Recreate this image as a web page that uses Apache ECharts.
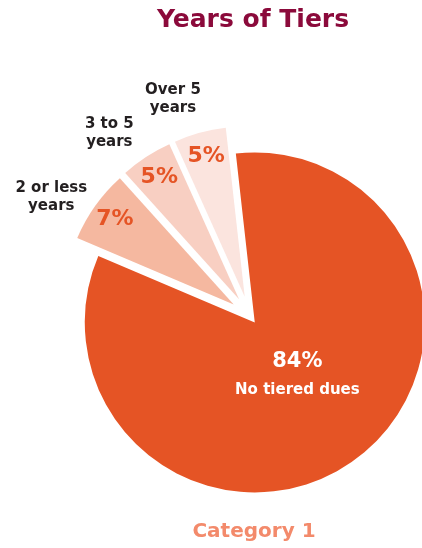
<!DOCTYPE html>
<html>
<head>
<meta charset="utf-8">
<style>
  html, body { margin: 0; padding: 0; background: #ffffff; }
  #chart { width: 422px; height: 548px; }
</style>
<script src="https://cdn.jsdelivr.net/npm/echarts@6/dist/echarts.min.js"></script>
</head>
<body>
<div id="chart"></div>
<script>
// Share of members by how long tiered dues have been in place
const categories = ['No tiered dues', '2 or less years', '3 to 5 years', 'Over 5 years'];
const shares = [84, 7, 5, 5];
const sliceColors = ['#E55425', '#F5B8A0', '#F8CFC2', '#FBE4DE'];
const chartTitle = 'Years of Tiers';
const seriesName = 'Category 1';

const FONT = '"DejaVu Sans", sans-serif';
const CENTER = [250, 316];
const START = 96.4;
const NONE = 'rgba(0,0,0,0)';

// Build one data list per layer; `show(i)` picks which slices a layer paints.
function layer(show, opts) {
  return categories.map((name, i) => {
    const on = show(i);
    const item = {
      name,
      value: shares[i],
      selected: on,
      itemStyle: { color: opts.paint && on ? sliceColors[i] : NONE },
      label: { show: !!opts.label && on }
    };
    item.select = { itemStyle: { color: item.itemStyle.color } };
    return item;
  });
}

const isMain = i => i === 0;
const isMinor = i => i > 0;

const base = {
  type: 'pie',
  center: CENTER,
  startAngle: START,
  clockwise: true,
  selectedMode: 'multiple',
  avoidLabelOverlap: false,
  silent: true,
  animation: false,
  labelLine: { show: false },
  emphasis: { disabled: true }
};

const chart = echarts.init(document.getElementById('chart'), null, { renderer: 'canvas' });
chart.setOption({
  backgroundColor: '#ffffff',
  title: [
    {
      text: chartTitle,
      left: 248, top: 3, textAlign: 'center',
      textStyle: { fontFamily: FONT, fontWeight: 'bold', fontSize: 25, color: '#8B0A3B' }
    },
    {
      text: seriesName,
      left: 249, top: 517, textAlign: 'center',
      textStyle: { fontFamily: FONT, fontWeight: 'bold', fontSize: 20, color: '#F38A6B' }
    }
  ],
  series: [
    // large slice, pulled out a little, with its value and name
    Object.assign({}, base, {
      name: seriesName,
      radius: [0, 170],
      selectedOffset: 8,
      data: layer(isMain, { paint: true, label: true }),
      label: {
        position: 'inside',
        formatter: p => '{v|' + p.value + '%}\n{n|' + p.name + '}',
        rich: {
          v: { fontFamily: FONT, fontWeight: 'bold', fontSize: 21, color: '#ffffff', lineHeight: 34 },
          n: { fontFamily: FONT, fontWeight: 'bold', fontSize: 15, color: '#ffffff', lineHeight: 22 }
        }
      },
      labelLayout: { dx: -10, dy: -20 }
    }),
    // small slices, pulled out further
    Object.assign({}, base, {
      name: seriesName,
      radius: [0, 170],
      selectedOffset: 20,
      data: layer(isMinor, { paint: true })
    }),
    // percentage text near the rim of the small slices
    Object.assign({}, base, {
      radius: [116, 170],
      selectedOffset: 20,
      data: layer(isMinor, { label: true }),
      label: {
        position: 'inside',
        formatter: p => p.value + '%',
        fontFamily: FONT, fontWeight: 'bold', fontSize: 22, color: '#E55425'
      }
    }),
    // category names outside the small slices
    Object.assign({}, base, {
      radius: [190, 230],
      startAngle: START + 4,
      selectedOffset: 20,
      data: layer(isMinor, { label: true }),
      label: {
        position: 'inside',
        formatter: p => p.name.replace(' years', '\nyears'),
        fontFamily: FONT, fontWeight: 'bold', fontSize: 15, lineHeight: 18,
        color: '#231F20', align: 'center'
      },
      labelLayout: { dy: 3 }
    })
  ]
});
</script>
</body>
</html>
